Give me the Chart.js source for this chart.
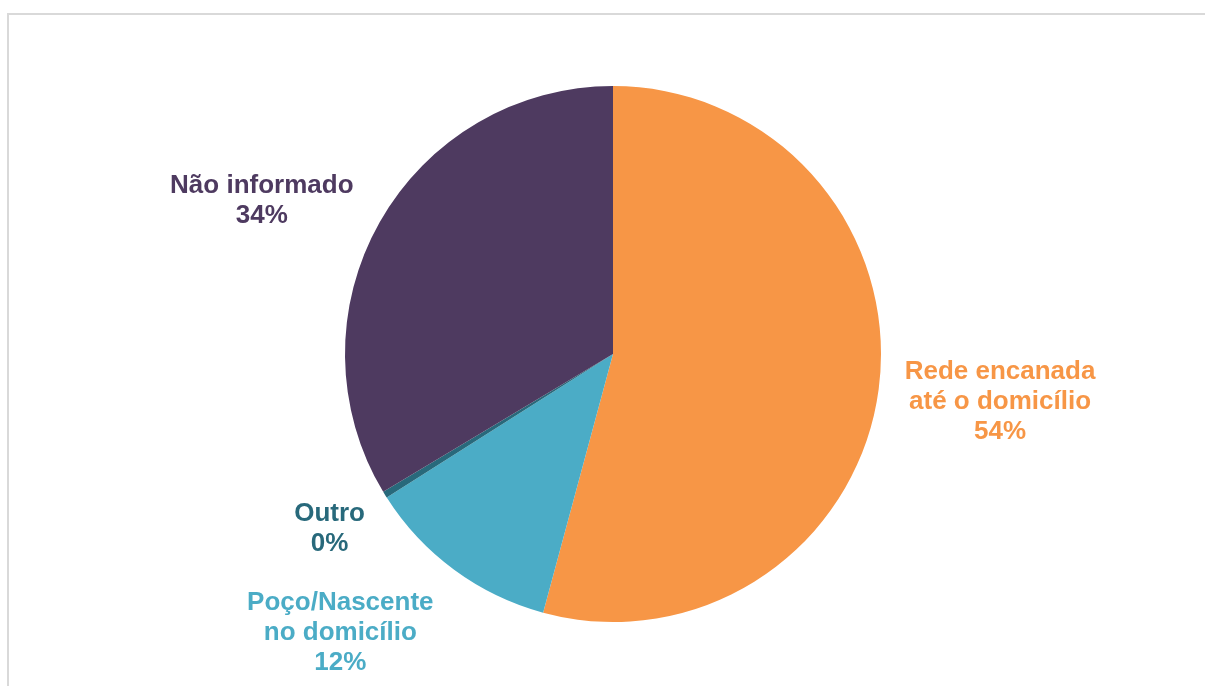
<!DOCTYPE html>
<html>
<head>
<meta charset="utf-8">
<script src="https://cdn.jsdelivr.net/npm/chart.js@4"></script>
<style>
  html, body { margin: 0; padding: 0; background: #fff; overflow: hidden; }
  .frame { position: absolute; left: 7px; top: 13px; width: 1220px; height: 700px; border: 2px solid #d9d9d9; }
  .wrap { position: absolute; left: 0; top: 0; width: 1205px; height: 686px; }
</style>
</head>
<body>
<div class="frame"></div>
<div class="wrap"><canvas id="chartAgua"></canvas></div>
<script>
const categorias = ['Rede encanada\naté o domicílio', 'Poço/Nascente\nno domicílio', 'Outro', 'Não informado'];
const valores = [54.2, 11.8, 0.4, 33.6];
const cores = ['#F79646', '#4BACC6', '#28697B', '#4E3A60'];

// distancia e ajuste de angulo dos rotulos
const rotuloDist = [390, 390, 333, 383];
const rotuloAjuste = [-0.5, 8, 0, -6];

const total = valores.reduce((a, b) => a + b, 0);

const rotulosPlugin = {
    id: 'rotulos',
    afterDatasetsDraw(chart) {
        const ctx = chart.ctx;
        const meta = chart.getDatasetMeta(0);
        ctx.save();
        ctx.font = 'bold 26px "Liberation Sans", Arial, sans-serif';
        ctx.textAlign = 'center';
        ctx.textBaseline = 'middle';
        meta.data.forEach(function (arc, i) {
            const mid = (arc.startAngle + arc.endAngle) / 2 + rotuloAjuste[i] * Math.PI / 180;
            const x = arc.x + Math.cos(mid) * rotuloDist[i];
            const y = arc.y + Math.sin(mid) * rotuloDist[i];
            const linhas = categorias[i].split('\n');
            linhas.push(Math.round(valores[i] / total * 100) + '%');
            const lh = 30;
            ctx.fillStyle = cores[i];
            linhas.forEach(function (t, j) {
                ctx.fillText(t, x, y + (j - (linhas.length - 1) / 2) * lh);
            });
        });
        ctx.restore();
    }
};

new Chart(document.getElementById('chartAgua'), {
    type: 'pie',
    data: {
        labels: categorias,
        datasets: [{
            data: valores,
            backgroundColor: cores,
            borderWidth: 0
        }]
    },
    options: {
        responsive: true,
        maintainAspectRatio: false,
        animation: false,
        layout: {
            padding: { left: 345, right: 324, top: 86, bottom: 64 }
        },
        plugins: {
            legend: { display: false },
            tooltip: { enabled: false }
        }
    },
    plugins: [rotulosPlugin]
});
</script>
</body>
</html>
